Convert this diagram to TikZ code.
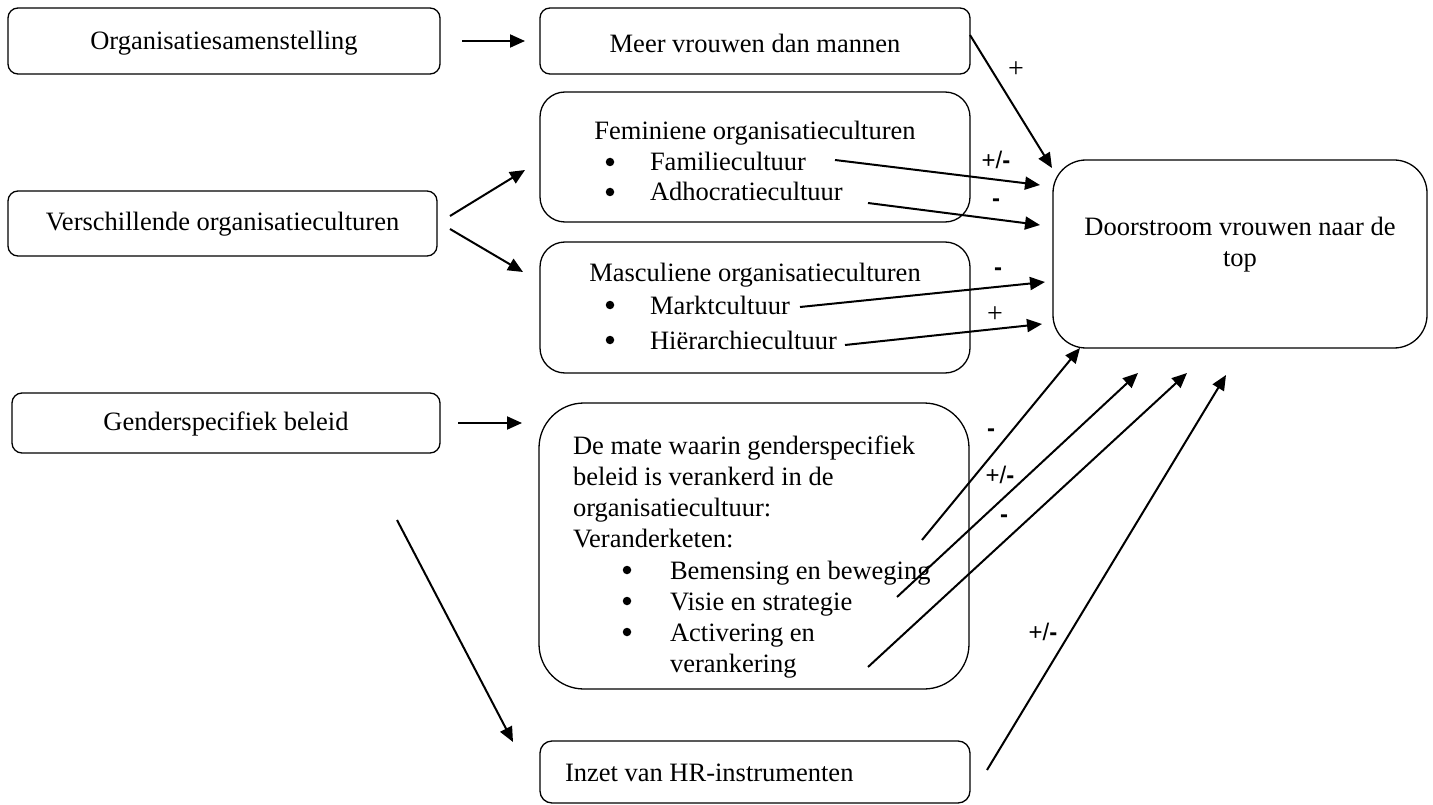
\documentclass[tikz,border=0pt]{standalone}
\usepackage{fontspec}
\setmainfont{Liberation Serif}
\newfontfamily\labfont{Liberation Sans}
\usetikzlibrary{arrows.meta}

\begin{document}
\begin{tikzpicture}[x=1pt,y=-1pt,
  every node/.style={font=\fontsize{26.5}{31}\selectfont, inner sep=0pt, outer sep=0pt},
  box/.style={draw, line width=1.3pt, rounded corners=#1},
  box/.default=10pt,
  link/.style={line width=2pt, -{Triangle[length=15pt,width=13pt]}},
  sign/.style={font=\labfont\fontsize{24}{28}\selectfont},
  psign/.style={font=\fontsize{28}{32}\selectfont},
  line/.style={anchor=base west},
  dot/.style={circle, fill, minimum size=8.5pt},
]
\useasboundingbox (0,0) rectangle (1433,805);

% ---- left column ----
\node[box, minimum width=432pt, minimum height=66pt] (orgsam) at (224,41) {};
\node (orgsamtext) at (224,43) {Organisatiesamenstelling};
\node[box, minimum width=429pt, minimum height=65pt] (cult) at (222.5,223.5) {};
\node (culttext) at (222.5,224) {Verschillende organisatieculturen};
\node[box, minimum width=428pt, minimum height=60pt] (gender) at (226,423) {};
\node (gendertext) at (226,424) {Genderspecifiek beleid};

% ---- middle column ----
\node[box, minimum width=430pt, minimum height=66pt] (meer) at (755,41) {};
\node (meertext) at (755,43) {Meer vrouwen dan mannen};

\node[box=25pt, minimum width=430pt, minimum height=130pt] (fem) at (755,157) {};
\node[anchor=base] (femh) at (755,140) {Feminiene organisatieculturen};
\node[dot] (femb1) at (610,162) {};
\node[line] (fam) at (650,171) {Familiecultuur};
\node[dot] (femb2) at (610,192) {};
\node[line] (adh) at (650,201) {Adhocratiecultuur};

\node[box=25pt, minimum width=430pt, minimum height=131pt] (mas) at (755,307.5) {};
\node[anchor=base] (mash) at (755,281) {Masculiene organisatieculturen};
\node[dot] (masb1) at (610,305) {};
\node[line] (markt) at (650,314) {Marktcultuur};
\node[dot] (masb2) at (610,340) {};
\node[line] (hier) at (650,349) {Hiërarchiecultuur};

\node[box=45pt, minimum width=430pt, minimum height=286pt] (mate) at (754,546) {};
\begin{scope}
  \clip (540,400) rectangle (970,677);
  \node[line] (m1) at (573,454) {De mate waarin genderspecifiek};
  \node[line] (m2) at (573,485) {beleid is verankerd in de};
  \node[line] (m3) at (573,516) {organisatiecultuur:};
  \node[line] (m4) at (573,547) {Veranderketen:};
  \node[dot] (mb1) at (627,570) {};
  \node[line] (m5) at (670,579) {Bemensing en beweging};
  \node[dot] (mb2) at (627,601) {};
  \node[line] (m6) at (670,610) {Visie en strategie};
  \node[dot] (mb3) at (627,632) {};
  \node[line] (m7) at (670,641) {Activering en};
  \node[line] (m8) at (670,672) {verankering};
\end{scope}

\node[box=12pt, minimum width=430pt, minimum height=62pt] (hr) at (755,772) {};
\node[line] (hrtext) at (565,781) {Inzet van HR-instrumenten};

% ---- right column ----
\node[box=33pt, minimum width=374pt, minimum height=188pt] (top) at (1240,254) {};
\node[align=center] (toptext) at (1240,245) {Doorstroom vrouwen naar de\\top};

% ---- connector end points ----
\coordinate (meer-out) at (970,35);
\coordinate (top-a) at (1052,168);
\coordinate (fam-out) at (835,160);
\coordinate (top-b) at (1040,185);
\coordinate (adh-out) at (868,203);
\coordinate (top-c) at (1040,225);
\coordinate (markt-out) at (800,307);
\coordinate (top-d) at (1045,282);
\coordinate (hier-out) at (845,345);
\coordinate (top-e) at (1042,324);
\coordinate (m-out1) at (922,540);
\coordinate (top-f) at (1080,348);
\coordinate (m-out2) at (897,597);
\coordinate (top-g) at (1138,373);
\coordinate (m-out3) at (868,667);
\coordinate (top-h) at (1187,373);
\coordinate (hr-out) at (987,770);
\coordinate (top-i) at (1226,375);
\coordinate (cult-out1) at (450,216);
\coordinate (fem-in) at (525,170);
\coordinate (cult-out2) at (450,229);
\coordinate (mas-in) at (523,272);
\coordinate (gender-out) at (397,520);
\coordinate (hr-in) at (513,742);

% ---- connectors ----
\draw[link] ([xshift=22pt]orgsam.east) -- ([xshift=-15pt]meer.west);
\draw[link] (cult-out1) -- (fem-in);
\draw[link] (cult-out2) -- (mas-in);
\draw[link] ([xshift=18pt]gender.east) -- ([xshift=-17pt]gender.east -| mate.west);
\draw[link] (gender-out) -- (hr-in);

\draw[link] (meer-out) -- (top-a);
\draw[link] (fam-out) -- (top-b);
\draw[link] (adh-out) -- (top-c);
\draw[link] (markt-out) -- (top-d);
\draw[link] (hier-out) -- (top-e);
\draw[link] (m-out1) -- (top-f);
\draw[link] (m-out2) -- (top-g);
\draw[link] (m-out3) -- (top-h);
\draw[link] (hr-out) -- (top-i);

% ---- effect signs ----
\node[psign] (s1) at (1016,70) {+};
\node[sign] (s2) at (996,160) {+/\textbf{-}};
\node[sign] (s3) at (996,203) {\textbf{-}};
\node[sign] (s4) at (998,272) {\textbf{-}};
\node[psign] (s5) at (995,315) {+};
\node[sign] (s6) at (991,433) {\textbf{-}};
\node[sign] (s7) at (1000,475) {+/\textbf{-}};
\node[sign] (s8) at (1004,519) {\textbf{-}};
\node[sign] (s9) at (1043,632) {+/\textbf{-}};
\end{tikzpicture}
\end{document}
